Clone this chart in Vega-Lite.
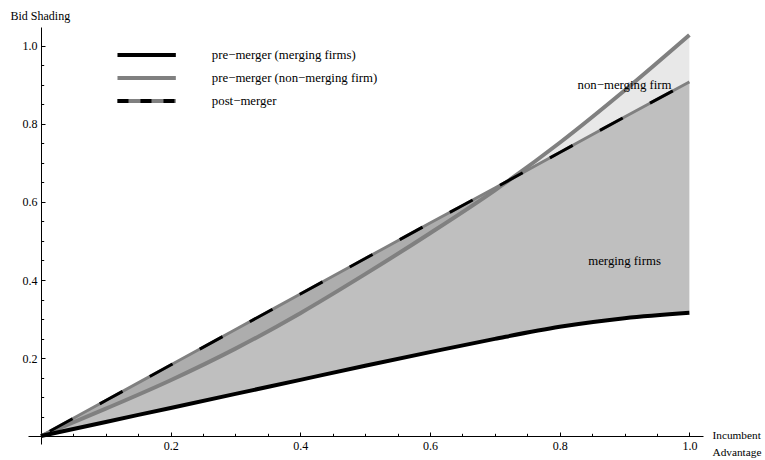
{
  "$schema": "https://vega.github.io/schema/vega-lite/v6.json",
  "width": 675,
  "height": 417,
  "autosize": {"type": "none"},
  "padding": {"left": 28, "top": 27, "right": 62, "bottom": 16},
  "background": "white",
  "config": {
    "view": {"stroke": null},
    "font": "Liberation Serif",
    "axis": {
      "grid": false,
      "domainColor": "black",
      "domainWidth": 1,
      "tickColor": "black",
      "tickWidth": 1,
      "labelColor": "black",
      "labelFont": "Liberation Serif",
      "labelFontSize": 12,
      "titleFont": "Liberation Serif",
      "titleFontSize": 12,
      "titleFontWeight": "normal",
      "titleColor": "black",
      "labelOverlap": false,
      "labelFlush": false
    }
  },
  "datasets": {
    "curves": [
      {"x": 0.0, "merging": 0.0, "nonmerging": 0.0, "post": 0.0},
      {"x": 0.1, "merging": 0.036, "nonmerging": 0.07, "post": 0.091},
      {"x": 0.2, "merging": 0.072, "nonmerging": 0.143, "post": 0.182},
      {"x": 0.3, "merging": 0.108, "nonmerging": 0.224, "post": 0.273},
      {"x": 0.4, "merging": 0.144, "nonmerging": 0.315, "post": 0.364},
      {"x": 0.5, "merging": 0.18, "nonmerging": 0.415, "post": 0.455},
      {"x": 0.6, "merging": 0.215, "nonmerging": 0.52, "post": 0.546},
      {"x": 0.7, "merging": 0.249, "nonmerging": 0.63, "post": 0.636},
      {"x": 0.8, "merging": 0.28, "nonmerging": 0.752, "post": 0.727},
      {"x": 0.9, "merging": 0.302, "nonmerging": 0.886, "post": 0.818},
      {"x": 1.0, "merging": 0.316, "nonmerging": 1.028, "post": 0.908}
    ],
    "legend": [
      {"series": "pre−merger (merging firms)", "x": 0.118, "x2": 0.208, "y": 0.977},
      {"series": "pre−merger (non−merging firm)", "x": 0.118, "x2": 0.208, "y": 0.918},
      {"series": "post−merger", "x": 0.118, "x2": 0.208, "y": 0.859}
    ],
    "labels": [
      {"label": "non−merging firm", "x": 0.9, "y": 0.9},
      {"label": "merging firms", "x": 0.9, "y": 0.449}
    ]
  },
  "resolve": {"axis": {"x": "independent", "y": "independent"}},
  "layer": [
    {
      "data": {"name": "curves"},
      "mark": {"type": "area", "color": "black", "opacity": 0.25, "interpolate": "monotone"},
      "encoding": {
        "x": {
          "field": "x", "type": "quantitative",
          "scale": {"domain": [-0.02, 1.021], "nice": false, "zero": false},
          "axis": {
            "orient": "bottom",
            "title": ["Incumbent", "Advantage"],
            "offset": -8,
            "values": [0.2, 0.4, 0.6, 0.8, 1.0],
            "format": ".1f",
            "ticks": false,
            "labelPadding": 4,
            "titleFontSize": 11.3,
            "titleX": 684,
            "titleY": -7,
            "titleAlign": "left",
            "titleBaseline": "top",
            "titleLineHeight": 17
          }
        },
        "y": {
          "field": "merging", "type": "quantitative",
          "scale": {"domain": [-0.0205, 1.0487], "nice": false, "zero": false},
          "axis": {
            "orient": "left",
            "title": "Bid Shading",
            "offset": -13,
            "values": [0.2, 0.4, 0.6, 0.8, 1.0],
            "format": ".1f",
            "ticks": false,
            "labelPadding": 4,
            "titleAngle": 0,
            "titleX": -31,
            "titleY": -12,
            "titleAlign": "left",
            "titleBaseline": "middle"
          }
        },
        "y2": {"field": "post"}
      }
    },
    {
      "data": {"name": "curves"},
      "mark": {"type": "area", "color": "black", "opacity": 0.09, "interpolate": "monotone"},
      "encoding": {
        "x": {
          "field": "x", "type": "quantitative",
          "axis": {
            "orient": "bottom", "title": null, "offset": -8, "domain": false, "labels": false,
            "values": [0.05, 0.1, 0.15, 0.25, 0.3, 0.35, 0.45, 0.5, 0.55, 0.65, 0.7, 0.75, 0.85, 0.9, 0.95],
            "tickSize": -2.7
          }
        },
        "y": {
          "field": "nonmerging", "type": "quantitative",
          "axis": {
            "orient": "left", "title": null, "offset": -13, "domain": false, "labels": false,
            "values": [0.05, 0.1, 0.15, 0.25, 0.3, 0.35, 0.45, 0.5, 0.55, 0.65, 0.7, 0.75, 0.85, 0.9, 0.95],
            "tickSize": -2.7
          }
        },
        "y2": {"field": "post"}
      }
    },
    {
      "data": {"name": "curves"},
      "mark": {"type": "line", "color": "#808080", "strokeWidth": 4, "interpolate": "monotone", "strokeCap": "butt"},
      "encoding": {
        "x": {
          "field": "x", "type": "quantitative",
          "axis": {
            "orient": "bottom", "title": null, "offset": -8, "domain": false, "labels": false,
            "values": [0.2, 0.4, 0.6, 0.8, 1.0],
            "tickSize": -4
          }
        },
        "y": {
          "field": "nonmerging", "type": "quantitative",
          "axis": {
            "orient": "left", "title": null, "offset": -13, "domain": false, "labels": false,
            "values": [0.2, 0.4, 0.6, 0.8, 1.0],
            "tickSize": -4
          }
        }
      }
    },
    {
      "data": {"name": "curves"},
      "mark": {"type": "line", "color": "#808080", "strokeWidth": 3, "interpolate": "monotone", "strokeCap": "butt"},
      "encoding": {
        "x": {"field": "x", "type": "quantitative", "axis": null},
        "y": {"field": "post", "type": "quantitative", "axis": null}
      }
    },
    {
      "data": {"name": "curves"},
      "mark": {"type": "line", "color": "black", "strokeWidth": 3, "interpolate": "monotone", "strokeCap": "butt", "strokeDash": [26, 31], "strokeDashOffset": -10},
      "encoding": {
        "x": {"field": "x", "type": "quantitative", "axis": null},
        "y": {"field": "post", "type": "quantitative", "axis": null}
      }
    },
    {
      "data": {"name": "curves"},
      "mark": {"type": "line", "color": "black", "strokeWidth": 4, "interpolate": "monotone", "strokeCap": "butt"},
      "encoding": {
        "x": {"field": "x", "type": "quantitative", "axis": null},
        "y": {"field": "merging", "type": "quantitative", "axis": null}
      }
    },
    {
      "data": {"name": "legend"},
      "transform": [{"filter": "datum.series == 'pre−merger (merging firms)'"}],
      "mark": {"type": "rule", "color": "black", "strokeWidth": 4, "strokeCap": "butt"},
      "encoding": {
        "x": {"field": "x", "type": "quantitative", "axis": null},
        "x2": {"field": "x2"},
        "y": {"field": "y", "type": "quantitative", "axis": null}
      }
    },
    {
      "data": {"name": "legend"},
      "transform": [{"filter": "datum.series != 'pre−merger (merging firms)'"}],
      "mark": {"type": "rule", "color": "#808080", "strokeWidth": 4, "strokeCap": "butt"},
      "encoding": {
        "x": {"field": "x", "type": "quantitative", "axis": null},
        "x2": {"field": "x2"},
        "y": {"field": "y", "type": "quantitative", "axis": null}
      }
    },
    {
      "data": {"name": "legend"},
      "transform": [{"filter": "datum.series == 'post−merger'"}],
      "mark": {"type": "rule", "color": "black", "strokeWidth": 4, "strokeCap": "butt", "strokeDash": [11, 12]},
      "encoding": {
        "x": {"field": "x", "type": "quantitative", "axis": null},
        "x2": {"field": "x2"},
        "y": {"field": "y", "type": "quantitative", "axis": null}
      }
    },
    {
      "data": {"name": "legend"},
      "mark": {"type": "text", "align": "left", "baseline": "middle", "fontSize": 12.8, "font": "Liberation Serif", "color": "black", "dx": 36},
      "encoding": {
        "x": {"field": "x2", "type": "quantitative", "axis": null},
        "y": {"field": "y", "type": "quantitative", "axis": null},
        "text": {"field": "series"}
      }
    },
    {
      "data": {"name": "labels"},
      "mark": {"type": "text", "align": "center", "baseline": "middle", "fontSize": 12.8, "font": "Liberation Serif", "color": "black"},
      "encoding": {
        "x": {"field": "x", "type": "quantitative", "axis": null},
        "y": {"field": "y", "type": "quantitative", "axis": null},
        "text": {"field": "label"}
      }
    }
  ]
}
